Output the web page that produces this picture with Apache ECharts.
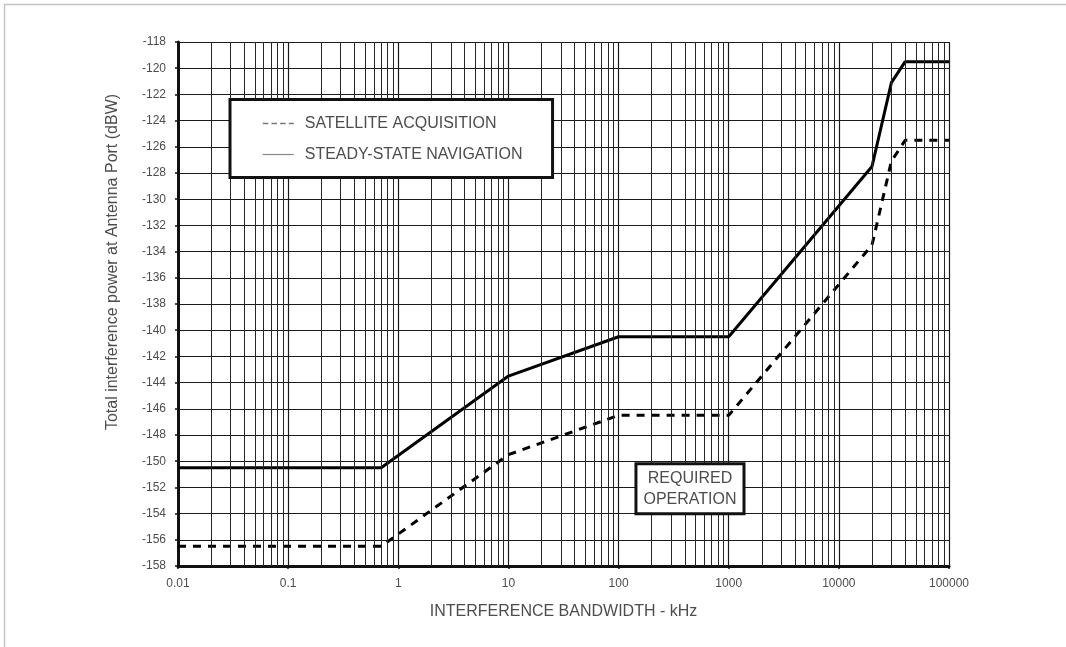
<!DOCTYPE html>
<html>
<head>
<meta charset="utf-8">
<style>
  html, body { margin: 0; padding: 0; background: #fff; }
  #chart { width: 1066px; height: 647px; }
</style>
<script src="https://cdn.jsdelivr.net/npm/echarts@6/dist/echarts.min.js"></script>
</head>
<body>
<div id="chart"></div>
<script>
// Interference mask: total interference power vs. interference bandwidth
const bandwidthKHz = [0.01, 0.7, 10, 100, 1000, 20000, 30000, 40000, 100000];
const navigationPower = [-150.5, -150.5, -143.5, -140.5, -140.5, -127.5, -121.1, -119.5, -119.5];
const acquisitionPower = [-156.5, -156.5, -149.5, -146.5, -146.5, -133.5, -127.1, -125.5, -125.5];

const seriesNames = ['SATELLITE ACQUISITION', 'STEADY-STATE NAVIGATION'];
const xTickLabels = ['0.01', '0.1', '1', '10', '100', '1000', '10000', '100000'];
const decades = [0.01, 0.1, 1, 10, 100, 1000, 10000];
const minorMultipliers = [2, 3, 4, 5, 6, 7, 8, 9];
const noteLines = ['REQUIRED', 'OPERATION'];
const notePoint = [445, -152.1];

const FONT = '"Liberation Sans", Arial, Helvetica, sans-serif';
const TEXT = '#4d4d4d';
const INK = '#111';

const minorLines = [];
decades.forEach(d => minorMultipliers.forEach(m => minorLines.push({ xAxis: +(d * m).toPrecision(6) })));

const pairs = (ys) => bandwidthKHz.map((x, i) => [x, ys[i]]);

const chart = echarts.init(document.getElementById('chart'), null, { renderer: 'canvas' });

chart.setOption({
  animation: false,
  backgroundColor: '#fff',
  textStyle: { fontFamily: FONT },
  graphic: [{
    type: 'rect', silent: true, z: -10,
    shape: { x: 4.5, y: 4.5, width: 1100, height: 700 },
    style: { fill: 'none', stroke: '#c4c4c4', lineWidth: 1.5 }
  }],
  grid: { left: 178, right: 117, top: 42, bottom: 81 },
  legend: {
    orient: 'vertical',
    left: 230, top: 99.5,
    z: 20,
    padding: [16, 30, 15, 32],
    itemGap: 15,
    itemWidth: 31, itemHeight: 16,
    selectedMode: false,
    backgroundColor: '#fff',
    borderColor: INK, borderWidth: 3, borderRadius: 0,
    textStyle: { fontSize: 16, color: TEXT, fontFamily: FONT, padding: [0, 0, 0, 6] },
    data: [
      { name: seriesNames[0], itemStyle: { opacity: 0 },
        lineStyle: { color: '#777', width: 1.5, type: [5.5, 3.2] } },
      { name: seriesNames[1], itemStyle: { opacity: 0 },
        lineStyle: { color: '#888', width: 1.2, type: 'solid' } }
    ]
  },
  xAxis: {
    type: 'log', logBase: 10, min: 0.01, max: 100000,
    name: 'INTERFERENCE BANDWIDTH - kHz',
    nameLocation: 'middle', nameGap: 38,
    nameTextStyle: { fontSize: 16, color: TEXT, fontFamily: FONT },
    axisLine: { show: true, onZero: false, lineStyle: { color: INK, width: 3 } },
    axisTick: { show: true, length: 3, lineStyle: { color: INK, width: 1.5 } },
    axisLabel: {
      margin: 12, fontSize: 12, color: TEXT, fontFamily: FONT,
      formatter: v => xTickLabels[Math.round(Math.log10(v)) + 2]
    },
    splitLine: { show: true, lineStyle: { color: '#1a1a1a', width: 1.2 } }
  },
  yAxis: {
    type: 'value', min: -158, max: -118, interval: 2,
    name: 'Total interference power at Antenna Port (dBW)',
    nameLocation: 'middle', nameGap: 57,
    nameTextStyle: { fontSize: 16, color: TEXT, fontFamily: FONT, padding: [0, 0, 0, 84] },
    axisLine: { show: true, onZero: false, lineStyle: { color: INK, width: 3 } },
    axisTick: { show: true, length: 3, lineStyle: { color: INK, width: 1.5 } },
    axisLabel: { margin: 12, fontSize: 12, color: TEXT, fontFamily: FONT },
    splitLine: { show: true, lineStyle: { color: '#1a1a1a', width: 1.2 } }
  },
  series: [
    {
      name: 'minor grid',
      type: 'line', data: [], z: 1, silent: true,
      markLine: {
        silent: true, symbol: ['none', 'none'], animation: false,
        label: { show: false },
        lineStyle: { color: '#262626', width: 1, type: 'solid' },
        emphasis: { disabled: true },
        data: minorLines
      }
    },
    {
      name: seriesNames[1],
      type: 'line', z: 3, symbol: 'none', silent: true,
      data: pairs(navigationPower),
      lineStyle: { color: '#000', width: 3, type: 'solid' }
    },
    {
      name: seriesNames[0],
      type: 'line', z: 3, symbol: 'none', silent: true,
      data: pairs(acquisitionPower),
      lineStyle: { color: '#000', width: 3, type: [8, 7] }
    },
    {
      name: 'note',
      type: 'line', data: [], z: 4, silent: true,
      markPoint: {
        silent: true, animation: false,
        data: [{
          coord: notePoint, symbol: 'rect', symbolSize: 1,
          itemStyle: { color: 'rgba(0,0,0,0)' },
          label: {
            show: true, position: 'inside',
            formatter: noteLines.join('\n'),
            fontSize: 16, lineHeight: 21, color: TEXT, fontFamily: FONT,
            backgroundColor: '#fff', borderColor: INK, borderWidth: 3,
            padding: [3, 6, 2, 6], align: 'center', verticalAlign: 'middle'
          }
        }]
      }
    }
  ]
});
</script>
</body>
</html>
